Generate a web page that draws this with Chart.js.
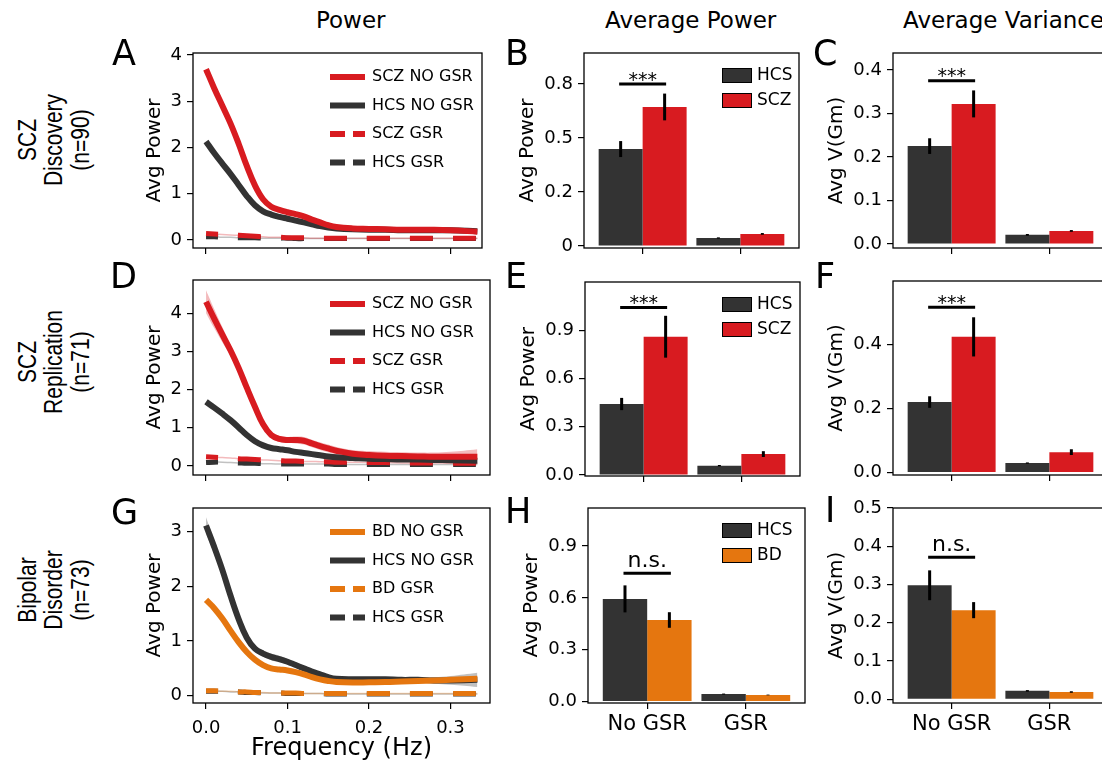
<!DOCTYPE html>
<html>
<head>
<meta charset="utf-8">
<script src="https://cdn.jsdelivr.net/npm/chart.js@4"></script>
<style>
  body { margin: 0; width: 1102px; height: 763px; overflow: hidden; background: #fff; position: relative; }
  canvas { position: absolute; }
  .txt { position: absolute; color: #000; white-space: nowrap; font-family: "DejaVu Sans", sans-serif; }
  .letter { font-size: 35px; line-height: 35px; }
  .col { font-size: 23px; line-height: 26px; }
  .row { font-family: "Liberation Sans", Arial, sans-serif; font-size: 21px; line-height: 22px; text-align: center;
         transform: translate(-50%, -50%) scaleX(1.2) rotate(-90deg); }
</style>
</head>
<body>
<div class="txt col" style="left:316px; top:7px;">Power</div>
<div class="txt col" style="left:605px; top:7px;">Average Power</div>
<div class="txt col" style="left:903px; top:7px;">Average Variance</div>

<div class="txt row" style="left:54px; top:140px;">SCZ<br>Discovery<br>(n=90)</div>
<div class="txt row" style="left:54px; top:362px;">SCZ<br>Replication<br>(n=71)</div>
<div class="txt row" style="left:54px; top:590px;">Bipolar<br>Disorder<br>(n=73)</div>

<canvas id="pA"></canvas><canvas id="pB"></canvas><canvas id="pC"></canvas>
<canvas id="pD"></canvas><canvas id="pE"></canvas><canvas id="pF"></canvas>
<canvas id="pG"></canvas><canvas id="pH"></canvas><canvas id="pI"></canvas>

<div class="txt letter" style="left:112px; top:36px;">A</div>
<div class="txt letter" style="left:505px; top:36px;">B</div>
<div class="txt letter" style="left:813px; top:36px;">C</div>
<div class="txt letter" style="left:110px; top:259px;">D</div>
<div class="txt letter" style="left:505px; top:259px;">E</div>
<div class="txt letter" style="left:815px; top:259px;">F</div>
<div class="txt letter" style="left:111px; top:495px;">G</div>
<div class="txt letter" style="left:505px; top:494px;">H</div>
<div class="txt letter" style="left:825px; top:493px;">I</div>

<script>
// ---------- data ----------
const freq = [0, 0.01, 0.02, 0.03, 0.04, 0.05, 0.06, 0.07, 0.08, 0.09, 0.10, 0.11, 0.12,
              0.13, 0.14, 0.15, 0.16, 0.18, 0.20, 0.22, 0.24, 0.26, 0.28, 0.30, 0.333];
const freqTicks = [0, 0.1, 0.2, 0.3];
const freqTickLabels = ['0.0', '0.1', '0.2', '0.3'];
const groupLabels = ['No GSR', 'GSR'];

// A: SCZ discovery, power spectra
const aSczNoGsr = [3.69, 3.28, 2.90, 2.52, 2.08, 1.60, 1.18, 0.88, 0.72, 0.65, 0.60, 0.56, 0.51, 0.44, 0.38, 0.32, 0.28, 0.25, 0.24, 0.23, 0.22, 0.22, 0.22, 0.21, 0.18];
const aHcsNoGsr = [2.13, 1.88, 1.65, 1.43, 1.19, 0.95, 0.75, 0.62, 0.55, 0.50, 0.46, 0.42, 0.38, 0.34, 0.30, 0.27, 0.25, 0.23, 0.22, 0.22, 0.21, 0.21, 0.21, 0.21, 0.19];
const aSczGsr = [0.14, 0.13, 0.12, 0.11, 0.10, 0.09, 0.08, 0.07, 0.06, 0.06, 0.05, 0.05, 0.05, 0.04, 0.04, 0.04, 0.04, 0.04, 0.04, 0.04, 0.04, 0.04, 0.04, 0.04, 0.04];
const aHcsGsr = [0.07, 0.07, 0.06, 0.06, 0.05, 0.05, 0.05, 0.04, 0.04, 0.04, 0.04, 0.03, 0.03, 0.03, 0.03, 0.03, 0.03, 0.03, 0.03, 0.03, 0.03, 0.03, 0.03, 0.03, 0.03];

// D: SCZ replication
const dSczNoGsr = [4.30, 3.86, 3.44, 3.03, 2.57, 2.05, 1.55, 1.09, 0.81, 0.71, 0.68, 0.68, 0.66, 0.59, 0.52, 0.46, 0.40, 0.32, 0.29, 0.27, 0.26, 0.25, 0.24, 0.24, 0.24];
const dSczBand = [0.30, 0.25, 0.20, 0.15, 0.12, 0.10, 0.08, 0.08, 0.08, 0.08, 0.08, 0.09, 0.10, 0.10, 0.10, 0.10, 0.10, 0.10, 0.10, 0.10, 0.10, 0.10, 0.11, 0.13, 0.20];
const dHcsNoGsr = [1.68, 1.53, 1.37, 1.20, 1.01, 0.81, 0.65, 0.54, 0.47, 0.44, 0.41, 0.37, 0.34, 0.31, 0.28, 0.25, 0.23, 0.21, 0.19, 0.18, 0.17, 0.17, 0.16, 0.15, 0.14];
const dSczGsr = [0.24, 0.23, 0.22, 0.21, 0.19, 0.18, 0.17, 0.16, 0.15, 0.14, 0.13, 0.13, 0.12, 0.12, 0.11, 0.11, 0.10, 0.10, 0.09, 0.09, 0.08, 0.08, 0.08, 0.07, 0.07];
const dHcsGsr = [0.09, 0.10, 0.10, 0.09, 0.08, 0.07, 0.07, 0.06, 0.06, 0.05, 0.05, 0.05, 0.05, 0.05, 0.05, 0.05, 0.04, 0.04, 0.04, 0.04, 0.04, 0.04, 0.04, 0.04, 0.04];

// G: bipolar disorder
const gBdNoGsr = [1.75, 1.60, 1.41, 1.19, 0.98, 0.80, 0.66, 0.56, 0.50, 0.48, 0.46, 0.43, 0.39, 0.34, 0.30, 0.27, 0.25, 0.24, 0.245, 0.25, 0.26, 0.27, 0.28, 0.29, 0.31];
const gHcsNoGsr = [3.11, 2.72, 2.30, 1.83, 1.40, 1.06, 0.86, 0.77, 0.71, 0.67, 0.62, 0.56, 0.50, 0.44, 0.39, 0.34, 0.31, 0.30, 0.30, 0.30, 0.29, 0.29, 0.28, 0.28, 0.29];
const gHcsBand = [0.15, 0.12, 0.10, 0.08, 0.06, 0.05, 0.05, 0.06, 0.06, 0.06, 0.05, 0.05, 0.05, 0.05, 0.04, 0.04, 0.04, 0.04, 0.04, 0.04, 0.04, 0.05, 0.06, 0.08, 0.13];
const gBdGsr = [0.09, 0.09, 0.08, 0.08, 0.07, 0.07, 0.06, 0.06, 0.05, 0.05, 0.05, 0.05, 0.04, 0.04, 0.04, 0.04, 0.04, 0.04, 0.04, 0.04, 0.04, 0.04, 0.04, 0.04, 0.04];
const gHcsGsr = [0.08, 0.08, 0.08, 0.07, 0.07, 0.06, 0.06, 0.05, 0.05, 0.05, 0.04, 0.04, 0.04, 0.04, 0.04, 0.03, 0.03, 0.03, 0.03, 0.03, 0.03, 0.03, 0.03, 0.03, 0.03];

// bar panels: [No GSR, GSR]
const bHcs = [0.449, 0.037], bHcsErr = [0.037, 0.003];
const bScz = [0.644, 0.056], bSczErr = [0.062, 0.004];
const cHcs = [0.225, 0.021], cHcsErr = [0.018, 0.002];
const cScz = [0.322, 0.030], cSczErr = [0.031, 0.002];
const eHcs = [0.441, 0.058], eHcsErr = [0.038, 0.004];
const eScz = [0.859, 0.130], eSczErr = [0.130, 0.018];
const fHcs = [0.220, 0.030], fHcsErr = [0.018, 0.002];
const fScz = [0.423, 0.064], fSczErr = [0.061, 0.009];
const hHcs = [0.594, 0.044], hHcsErr = [0.078, 0.003];
const hBd = [0.472, 0.039], hBdErr = [0.045, 0.002];
const iHcs = [0.298, 0.022], iHcsErr = [0.039, 0.002];
const iBd = [0.233, 0.019], iBdErr = [0.021, 0.002];

// y ticks
const ticksA = [0, 1, 2, 3, 4], labelsA = ['0', '1', '2', '3', '4'];
const ticksG = [0, 1, 2, 3], labelsG = ['0', '1', '2', '3'];
const ticksB = [0, 0.25, 0.5, 0.75], labelsB = ['0', '0.2', '0.5', '0.8'];
const ticksC = [0, 0.1, 0.2, 0.3, 0.4], labelsC = ['0.0', '0.1', '0.2', '0.3', '0.4'];
const ticksE = [0, 0.3, 0.6, 0.9], labelsE = ['0.0', '0.3', '0.6', '0.9'];
const ticksF = [0, 0.2, 0.4], labelsF = ['0.0', '0.2', '0.4'];
const ticksI = [0, 0.1, 0.2, 0.3, 0.4, 0.5], labelsI = ['0.0', '0.1', '0.2', '0.3', '0.4', '0.5'];

// ---------- style ----------
const RED = '#D81B20', DARK = '#333333', ORANGE = '#E5760F';
const PAD_L = 70, PAD_T = 12, PAD_R = 12, PAD_B = 60;

Chart.defaults.font.family = '"DejaVu Sans", sans-serif';
Chart.defaults.color = '#000';
Chart.defaults.animation = false;

function fade(hex, a) {
    const n = parseInt(hex.slice(1), 16);
    return `rgba(${n >> 16},${(n >> 8) & 255},${n & 255},${a})`;
}

function place(id, box) {
    const c = document.getElementById(id);
    c.width = box.r - box.l + PAD_L + PAD_R;
    c.height = box.b - box.t + PAD_T + PAD_B;
    c.style.left = (box.l - PAD_L) + 'px';
    c.style.top = (box.t - PAD_T) + 'px';
    return c;
}

const tickGrid = { drawOnChartArea: false, drawTicks: true, tickLength: 6, color: '#000', lineWidth: 1.2 };

function yScale(min, max, ticks, labels, title, titlePad) {
    return {
        type: 'linear', min, max,
        afterBuildTicks: s => { s.ticks = ticks.map(v => ({ value: v })); },
        ticks: { callback: (v, i) => labels[i], font: { size: 18 }, padding: 5 },
        grid: tickGrid,
        border: { display: false },
        title: { display: true, text: title, font: { size: 20 }, padding: { top: titlePad, bottom: 0 } },
        afterFit: s => { s.width = PAD_L; s.paddingTop = 0; s.paddingBottom = 0; }
    };
}

// full box around the panel
const frame = {
    id: 'frame',
    afterDraw(chart) {
        const { ctx, chartArea: a } = chart;
        ctx.save();
        ctx.strokeStyle = '#000';
        ctx.lineWidth = 1.3;
        ctx.strokeRect(a.left, a.top, a.right - a.left, a.bottom - a.top);
        ctx.restore();
    }
};

// legend inside the line panels
const lineLegend = {
    id: 'lineLegend',
    afterDatasetsDraw(chart) {
        const { ctx, chartArea: a } = chart;
        const items = chart.data.datasets.filter(d => d.inLegend);
        ctx.save();
        items.forEach((d, i) => {
            const y = a.top + 24 + i * 28.5;
            const x0 = a.left + 137;
            ctx.strokeStyle = d.borderColor;
            ctx.lineWidth = 6;
            ctx.setLineDash(d.dashed ? [15, 8] : []);
            ctx.beginPath(); ctx.moveTo(x0, y); ctx.lineTo(x0 + 35, y); ctx.stroke();
            ctx.setLineDash([]);
            ctx.fillStyle = '#000';
            ctx.font = '16px "DejaVu Sans"';
            ctx.textBaseline = 'middle';
            ctx.fillText(d.label, x0 + 42, y);
        });
        ctx.restore();
    }
};

function linePanel(id, box, xMax, yMin, yMax, ticks, labels, series, showX) {
    const canvas = place(id, box);
    const pts = vals => freq.map((f, i) => ({ x: f, y: vals[i] }));
    const datasets = [];
    series.forEach((s, k) => {
        if (s.band) {
            datasets.push({ data: pts(s.values.map((v, i) => v + s.band[i])), borderWidth: 0, pointRadius: 0,
                tension: 0.4, order: 10, fill: false });
            datasets.push({ data: pts(s.values.map((v, i) => v - s.band[i])), borderWidth: 0, pointRadius: 0,
                tension: 0.4, order: 10, fill: '-1', backgroundColor: fade(s.color, 0.3) });
        }
        if (s.dashed) {
            datasets.push({ data: pts(s.values), borderColor: fade(s.color, 0.3), borderWidth: 1.5,
                pointRadius: 0, tension: 0.4, order: 8 });
        }
        datasets.push({
            label: s.label, inLegend: true, dashed: s.dashed, data: pts(s.values),
            borderColor: s.color, borderWidth: s.dashed ? 5 : 6, pointRadius: 0,
            borderDash: s.dashed ? [23, 20] : [], borderDashOffset: s.dashed ? 11 : 0,
            borderCapStyle: 'butt', tension: 0.4, order: k
        });
    });
    new Chart(canvas, {
        type: 'line',
        data: { datasets },
        options: {
            responsive: false, devicePixelRatio: 1,
            layout: { padding: { top: PAD_T, right: PAD_R, left: 0, bottom: 0 } },
            plugins: { legend: { display: false }, tooltip: { enabled: false } },
            scales: {
                x: {
                    type: 'linear', min: -0.016, max: xMax,
                    afterBuildTicks: s => { s.ticks = freqTicks.map(v => ({ value: v })); },
                    ticks: { display: showX, callback: (v, i) => freqTickLabels[i], font: { size: 18 }, padding: 9, maxRotation: 0 },
                    grid: tickGrid,
                    border: { display: false },
                    title: { display: showX, text: 'Frequency (Hz)', font: { size: 24 }, padding: { top: 0, bottom: 0 } },
                    afterFit: s => { s.height = PAD_B; s.paddingLeft = 0; s.paddingRight = 0; }
                },
                y: yScale(yMin, yMax, ticks, labels, 'Avg Power', 20)
            }
        },
        plugins: [frame, lineLegend]
    });
}

// error bars, significance bracket and legend for the bar panels
const barExtras = {
    id: 'barExtras',
    afterDatasetsDraw(chart, args, opts) {
        const { ctx, chartArea: a, scales: { y } } = chart;
        ctx.save();
        ctx.strokeStyle = '#000';
        ctx.lineWidth = 3;
        chart.data.datasets.forEach((ds, i) => {
            chart.getDatasetMeta(i).data.forEach((bar, j) => {
                const v = ds.data[j].y, e = ds.errors[j];
                ctx.beginPath();
                ctx.moveTo(bar.x, y.getPixelForValue(v - e));
                ctx.lineTo(bar.x, y.getPixelForValue(v + e));
                ctx.stroke();
            });
        });
        const x1 = chart.getDatasetMeta(0).data[0].x, x2 = chart.getDatasetMeta(1).data[0].x;
        const sy = y.getPixelForValue(opts.sigY);
        ctx.lineCap = 'square';
        ctx.beginPath(); ctx.moveTo(x1, sy); ctx.lineTo(x2, sy); ctx.stroke();
        ctx.fillStyle = '#000';
        ctx.textAlign = 'center';
        ctx.textBaseline = 'alphabetic';
        if (opts.sigText === '***') {
            ctx.font = '19px "DejaVu Sans"';
            ctx.fillText('***', (x1 + x2) / 2, sy + 1.5);
        } else {
            ctx.font = '22px "DejaVu Sans"';
            ctx.fillText(opts.sigText, (x1 + x2) / 2, sy - 6);
        }
        if (opts.legendX) {
            ctx.textAlign = 'left';
            ctx.textBaseline = 'middle';
            ctx.font = '17px "DejaVu Sans"';
            ctx.lineWidth = 1;
            chart.data.datasets.forEach((ds, i) => {
                const lx = a.left + opts.legendX, ly = a.top + 22.5 + i * 25;
                ctx.fillStyle = ds.backgroundColor;
                ctx.fillRect(lx, ly - 7.5, 30, 15);
                ctx.strokeStyle = '#000';
                ctx.strokeRect(lx + 0.5, ly - 7, 29, 14);
                ctx.fillStyle = '#000';
                ctx.fillText(ds.label, lx + 35, ly);
            });
        }
        ctx.restore();
    }
};

function barPanel(id, box, yMin, yMax, ticks, labels, title, hcs, hcsErr, grp, grpErr, grpName, grpColor, sig, legendX, showX) {
    const canvas = place(id, box);
    const pts = vals => vals.map((v, i) => ({ x: i + 1, y: v }));
    new Chart(canvas, {
        type: 'bar',
        data: {
            datasets: [
                { label: 'HCS', data: pts(hcs), errors: hcsErr, backgroundColor: DARK, borderWidth: 0,
                  categoryPercentage: 0.9, barPercentage: 1 },
                { label: grpName, data: pts(grp), errors: grpErr, backgroundColor: grpColor, borderWidth: 0,
                  categoryPercentage: 0.9, barPercentage: 1 }
            ]
        },
        options: {
            responsive: false, devicePixelRatio: 1,
            layout: { padding: { top: PAD_T, right: PAD_R, left: 0, bottom: 0 } },
            plugins: {
                legend: { display: false }, tooltip: { enabled: false },
                barExtras: { sigY: sig.y, sigText: sig.text, legendX }
            },
            scales: {
                x: {
                    type: 'linear', min: 0.4, max: 2.6, offset: false,
                    afterBuildTicks: s => { s.ticks = groupLabels.map((g, i) => ({ value: i + 1 })); },
                    ticks: { display: showX, callback: (v, i) => groupLabels[i], font: { size: 21 }, padding: 3, maxRotation: 0 },
                    grid: Object.assign({ offset: false }, tickGrid),
                    border: { display: false },
                    afterFit: s => { s.height = PAD_B; s.paddingLeft = 0; s.paddingRight = 0; }
                },
                y: yScale(yMin, yMax, ticks, labels, title, 2)
            }
        },
        plugins: [frame, barExtras]
    });
}

// ---------- panels ----------
linePanel('pA', { l: 193, t: 53, r: 482, b: 248 }, 0.3387, -0.173, 4.04, ticksA, labelsA, [
    { label: 'SCZ NO GSR', values: aSczNoGsr, color: RED },
    { label: 'HCS NO GSR', values: aHcsNoGsr, color: DARK },
    { label: 'SCZ GSR', values: aSczGsr, color: RED, dashed: true },
    { label: 'HCS GSR', values: aHcsGsr, color: DARK, dashed: true }
], false);

linePanel('pD', { l: 193, t: 280, r: 490, b: 475 }, 0.3485, -0.236, 4.87, ticksA, labelsA, [
    { label: 'SCZ NO GSR', values: dSczNoGsr, color: RED, band: dSczBand },
    { label: 'HCS NO GSR', values: dHcsNoGsr, color: DARK },
    { label: 'SCZ GSR', values: dSczGsr, color: RED, dashed: true },
    { label: 'HCS GSR', values: dHcsGsr, color: DARK, dashed: true }
], false);

linePanel('pG', { l: 193, t: 508, r: 490, b: 703 }, 0.3485, -0.133, 3.43, ticksG, labelsG, [
    { label: 'BD NO GSR', values: gBdNoGsr, color: ORANGE },
    { label: 'HCS NO GSR', values: gHcsNoGsr, color: DARK, band: gHcsBand },
    { label: 'BD GSR', values: gBdGsr, color: ORANGE, dashed: true },
    { label: 'HCS GSR', values: gHcsGsr, color: DARK, dashed: true }
], true);

barPanel('pB', { l: 584, t: 53, r: 799, b: 248 }, -0.0093, 0.894, ticksB, labelsB, 'Avg Power',
    bHcs, bHcsErr, bScz, bSczErr, 'SCZ', RED, { y: 0.75, text: '***' }, 138, false);
barPanel('pC', { l: 893, t: 53, r: 1108, b: 248 }, -0.0092, 0.439, ticksC, labelsC, 'Avg V(Gm)',
    cHcs, cHcsErr, cScz, cSczErr, 'SCZ', RED, { y: 0.375, text: '***' }, 0, false);
barPanel('pE', { l: 585, t: 282, r: 800, b: 476 }, -0.0062, 1.199, ticksE, labelsE, 'Avg Power',
    eHcs, eHcsErr, eScz, eSczErr, 'SCZ', RED, { y: 1.04, text: '***' }, 137, false);
barPanel('pF', { l: 893, t: 281, r: 1108, b: 475 }, -0.0072, 0.597, ticksF, labelsF, 'Avg V(Gm)',
    fHcs, fHcsErr, fScz, fSczErr, 'SCZ', RED, { y: 0.515, text: '***' }, 0, false);
barPanel('pH', { l: 588, t: 508, r: 805, b: 703 }, -0.0075, 1.119, ticksE, labelsE, 'Avg Power',
    hHcs, hHcsErr, hBd, hBdErr, 'BD', ORANGE, { y: 0.742, text: 'n.s.' }, 134, true);
barPanel('pI', { l: 893, t: 508, r: 1108, b: 703 }, -0.0097, 0.5, ticksI, labelsI, 'Avg V(Gm)',
    iHcs, iHcsErr, iBd, iBdErr, 'BD', ORANGE, { y: 0.371, text: 'n.s.' }, 0, true);
</script>
</body>
</html>
